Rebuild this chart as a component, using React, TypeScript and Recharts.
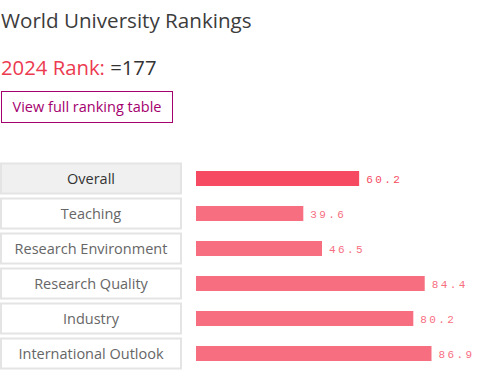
import React from "react";
import { BarChart, Bar, XAxis, YAxis, Cell, LabelList } from "recharts";

const categories = ["Overall", "Teaching", "Research Environment", "Research Quality", "Industry", "International Outlook"];
const scores = [60.2, 39.6, 46.5, 84.4, 80.2, 86.9];
const barColors = ["#f64962", "#f76e81", "#f76e81", "#f76e81", "#f76e81", "#f76e81"];

const data = categories.map((name, i) => ({ name, score: scores[i] }));

const FONT = "'Open Sans', sans-serif";

const CategoryTick = (props: any) => {
  const { y, payload } = props;
  const isOverall = payload.value === "Overall";
  return (
    <g>
      <rect x={1} y={y - 15} width={180} height={30} fill={isOverall ? "#f0f0f0" : "#ffffff"} stroke="#e4e4e4" strokeWidth={2} />
      <text x={91} y={y} dy={5} textAnchor="middle" fontFamily={FONT} fontSize={14.5} fill={isOverall ? "#333333" : "#666666"}>
        {payload.value}
      </text>
    </g>
  );
};

const ValueLabel = (props: any) => {
  const { x, y, width, height, value, index } = props;
  return (
    <text x={x + width + 7} y={y + height / 2} dy={4} fontFamily="'Liberation Mono', monospace" fontSize={11} letterSpacing={2.4} fill={index === 0 ? "#f64962" : "#f76e81"}>
      {Number(value).toFixed(1)}
    </text>
  );
};

export default function App() {
  return (
    <div style={{ position: "absolute", left: 0, top: 0, width: 495, height: 379, background: "#fff", fontFamily: FONT }}>
      <div style={{ position: "absolute", left: 1, top: 5.5, fontSize: 20.6, color: "#3c3c3c", whiteSpace: "nowrap" }}>World University Rankings</div>
      <div style={{ position: "absolute", left: 1, top: 52.5, fontSize: 20.3, color: "#333", whiteSpace: "nowrap" }}>
        <span style={{ color: "#ec3a50" }}>2024 Rank:</span> =177
      </div>
      <div style={{ position: "absolute", left: 1, top: 91, width: 170, height: 30, border: "1px solid #a4006e", color: "#a4006e", fontSize: 14.5, lineHeight: "30px", textAlign: "center", boxSizing: "content-box" }}>
        View full ranking table
      </div>
      <div style={{ position: "absolute", left: 0, top: 0 }}>
        <BarChart width={495} height={379} data={data} layout="vertical" margin={{ top: 161, right: 28, bottom: 8, left: 0 }} barCategoryGap={0}>
          <XAxis type="number" domain={[0, 100]} hide />
          <YAxis type="category" dataKey="name" width={196} axisLine={false} tickLine={false} tick={<CategoryTick />} interval={0} />
          <Bar dataKey="score" barSize={15} isAnimationActive={false}>
            {data.map((d, i) => (
              <Cell key={d.name} fill={barColors[i]} />
            ))}
            <LabelList dataKey="score" content={<ValueLabel />} />
          </Bar>
        </BarChart>
      </div>
    </div>
  );
}
